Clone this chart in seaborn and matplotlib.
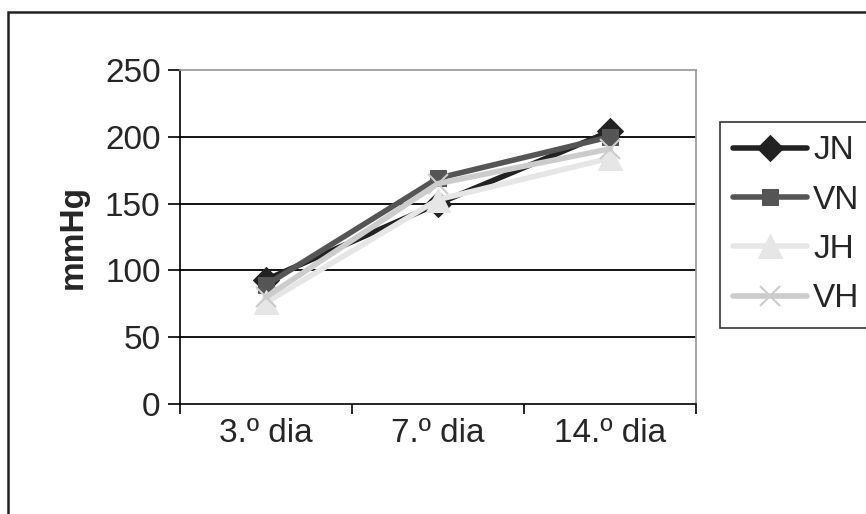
import numpy as np
import pandas as pd
import matplotlib
matplotlib.use('Agg')
import matplotlib.pyplot as plt
import seaborn as sns
from matplotlib.patches import Rectangle

# data
days = ['3.º dia', '7.º dia', '14.º dia']
jn = [93, 150, 204]
vn = [89, 169, 200]
jh = [76, 153, 184]
vh = [80, 165, 191]

series = {'JN': jn, 'VN': vn, 'JH': jh, 'VH': vh}
styles = {
    'JN': dict(color='#222222', marker='D', markersize=13),
    'VN': dict(color='#555555', marker='s', markersize=12),
    'JH': dict(color='#e6e6e6', marker='^', markersize=17),
    'VH': dict(color='#cccccc', marker='x', markersize=15, markeredgewidth=1.5),
}

FS = 24

sns.set_theme(style='white')
plt.rcParams['font.family'] = ['Liberation Sans', 'DejaVu Sans']

fig = plt.figure(figsize=(8.66, 5.14), dpi=100)
ax = fig.add_axes([180 / 866, 1 - 404 / 514, (696 - 180) / 866, (404 - 70) / 514])

x = np.arange(len(days))
for name, vals in series.items():
    df = pd.DataFrame({'x': x, 'y': vals})
    sns.lineplot(data=df, x='x', y='y', ax=ax, label=name, linewidth=4,
                 markeredgecolor=styles[name]['color'], **styles[name])

ax.set_ylim(0, 250)
ax.set_xlim(-0.5, 2.5)
ax.set_yticks([0, 50, 100, 150, 200, 250])
ax.tick_params(axis='y', labelsize=FS, length=9, width=1.2, color='black',
               direction='out', left=True, pad=5)
ax.set_xticks([-0.5, 0.5, 1.5, 2.5])
ax.set_xticklabels([])
ax.set_xticks(x, minor=True)
ax.set_xticklabels(days, minor=True)
ax.tick_params(axis='x', which='major', length=7, width=1.2, color='black',
               direction='out', bottom=True)
ax.tick_params(axis='x', which='minor', length=0, labelsize=FS, pad=10)

for yv in [50, 100, 150, 200]:
    ax.axhline(yv, color='black', linewidth=1.3, zorder=0)

ax.spines['left'].set_color('black')
ax.spines['bottom'].set_color('black')
ax.spines['left'].set_linewidth(1.2)
ax.spines['bottom'].set_linewidth(1.2)
ax.spines['top'].set_color('#999999')
ax.spines['right'].set_color('#999999')

ax.set_xlabel('')
ax.set_ylabel('mmHg', fontsize=FS, fontweight='bold', labelpad=12)

leg = ax.legend(loc='upper left', bbox_to_anchor=(720 / 866, 1 - 122 / 514),
                bbox_transform=fig.transFigure, fontsize=FS, frameon=True,
                fancybox=False, edgecolor='black', handlelength=2.2,
                handletextpad=0.2, labelspacing=0.55, borderpad=0.4,
                borderaxespad=0)
leg.get_frame().set_linewidth(1.2)

# outer chart border
fig.patches.append(Rectangle((8 / 866, -0.01), 1.0, 1 - 12 / 514 + 0.01,
                             transform=fig.transFigure, fill=False,
                             edgecolor='#222222', linewidth=1.8))

fig.savefig('out.png', dpi=100)
